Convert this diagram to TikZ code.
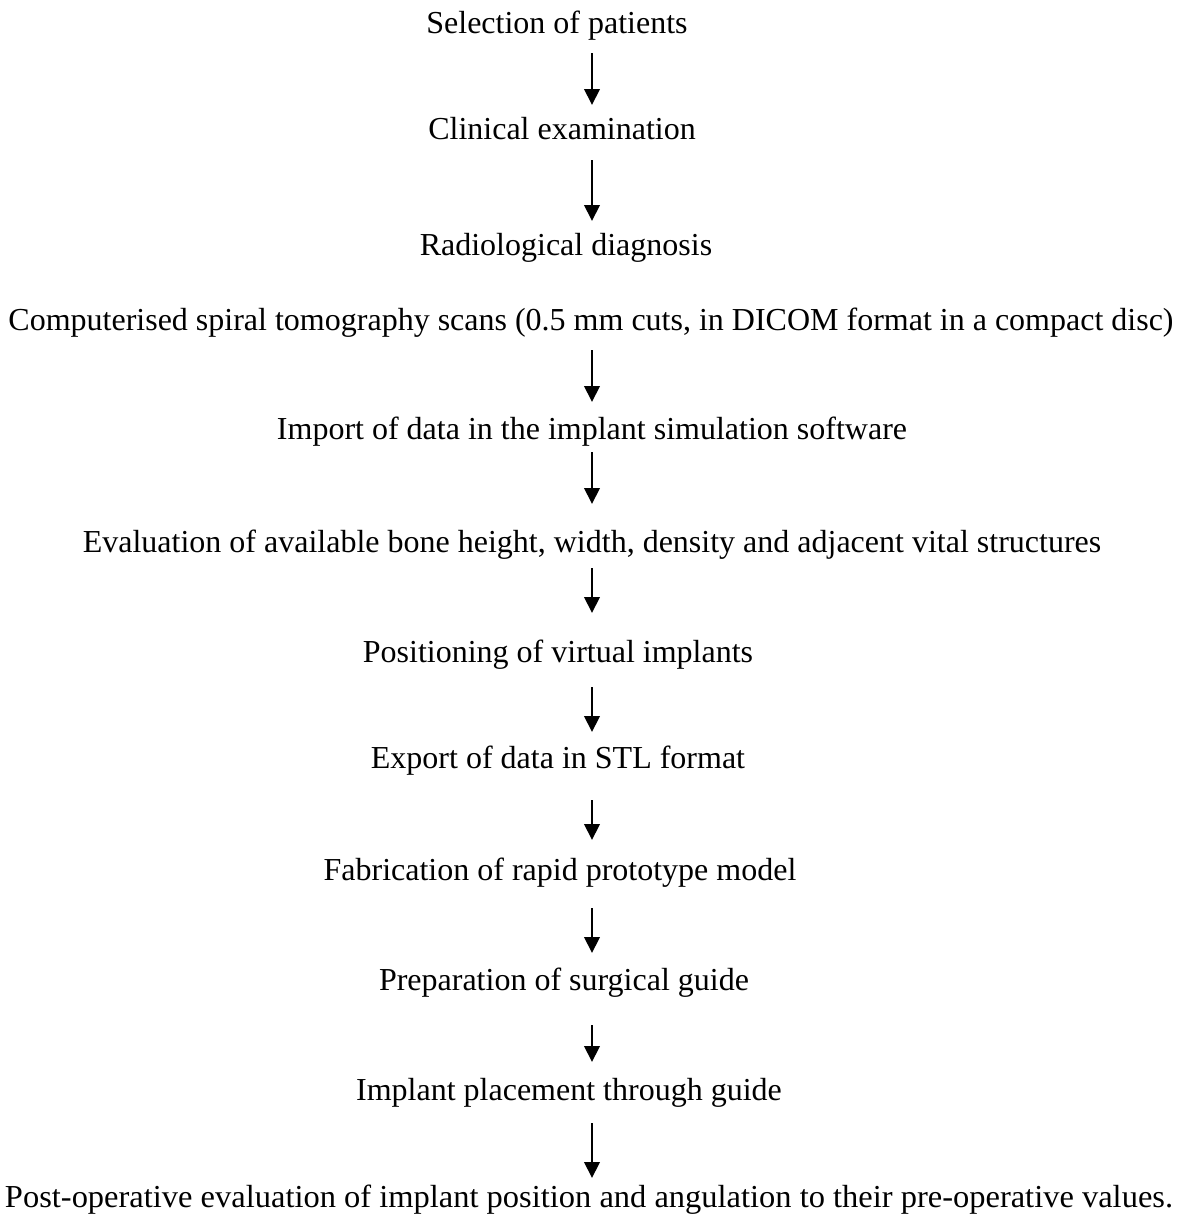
\documentclass[tikz,border=0pt]{standalone}
\usepackage{fontspec}
\setmainfont{Liberation Serif}
\usepackage{graphicx}
\usepackage{tikz}
\usetikzlibrary{arrows.meta, positioning, calc}

\tikzset{
  stage/.style={inner sep=0pt, anchor=base, font=\fontsize{12pt}{14pt}\selectfont},
  flow/.style={-{Triangle[length=6pt, width=5.8pt]}, line width=0.8pt}
}

\begin{document}
\begin{tikzpicture}[x=0.375pt, y=-0.375pt]
  % --- page frame ---
  \useasboundingbox (0,0) rectangle (1184,1216);
  \coordinate (spine) at (592,0);

  % --- steps ---
  \node[stage] (sel)   at (557,33)   {Selection of patients};
  \node[stage] (clin)  at (562,139)  {Clinical examination};
  \node[stage] (radio) at (566,255)  {Radiological diagnosis};
  \node[stage] (ct)    at (591,330)  {Computerised spiral tomography scans (0.5 mm cuts, in DICOM format in a compact disc)};
  \node[stage] (imp)   at (592,439)  {Import of data in the implant simulation software};
  \node[stage] (eval)  at (592,552)  {Evaluation of available bone height, width, density and adjacent vital structures};
  \node[stage] (pos)   at (558,662)  {Positioning of virtual implants};
  \node[stage] (exp)   at (558,768)  {Export of data in STL format};
  \node[stage] (fab)   at (560,880)  {Fabrication of rapid prototype model};
  \node[stage] (prep)  at (564,990)  {Preparation of surgical guide};
  \node[stage] (impl)  at (569,1100) {Implant placement through guide};
  \node[stage] (post)  at (589,1207) {\resizebox{438pt}{\height}{Post-operative evaluation of implant position and angulation to their pre-operative values.}};

  % --- arrows ---
  \draw[flow] ($(sel.base -| spine)+(0,20)$)   -- ($(clin.base -| spine)+(0,-34)$);
  \draw[flow] ($(clin.base -| spine)+(0,21)$)  -- ($(radio.base -| spine)+(0,-34)$);
  \draw[flow] ($(ct.base -| spine)+(0,20)$)    -- ($(imp.base -| spine)+(0,-37)$);
  \draw[flow] ($(imp.base -| spine)+(0,13)$)   -- ($(eval.base -| spine)+(0,-48)$);
  \draw[flow] ($(eval.base -| spine)+(0,16)$)  -- ($(pos.base -| spine)+(0,-49)$);
  \draw[flow] ($(pos.base -| spine)+(0,25)$)   -- ($(exp.base -| spine)+(0,-36)$);
  \draw[flow] ($(exp.base -| spine)+(0,32)$)   -- ($(fab.base -| spine)+(0,-40)$);
  \draw[flow] ($(fab.base -| spine)+(0,28)$)   -- ($(prep.base -| spine)+(0,-37)$);
  \draw[flow] ($(prep.base -| spine)+(0,35)$)  -- ($(impl.base -| spine)+(0,-38)$);
  \draw[flow] ($(impl.base -| spine)+(0,23)$)  -- ($(post.base -| spine)+(0,-29)$);
\end{tikzpicture}
\end{document}
